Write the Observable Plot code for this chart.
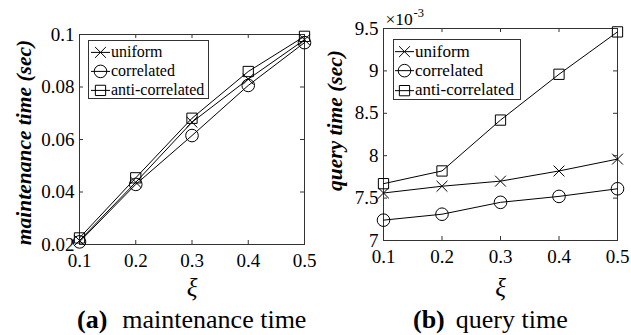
<!DOCTYPE html>
<html><head><meta charset="utf-8">
<script src="https://cdn.jsdelivr.net/npm/d3@7"></script>
<script src="https://cdn.jsdelivr.net/npm/@observablehq/plot@0.6"></script>
<style>
body{margin:0;background:#fff;}
#wrap{position:relative;width:631px;height:335px;font-family:"Liberation Serif",serif;color:#000;overflow:hidden;}
#wrap svg, #wrap svg text, #wrap svg g{font-family:"Liberation Serif",serif !important;}
.panel{position:absolute;top:0;}
.cap{position:absolute;font-size:26px;line-height:26px;white-space:nowrap;}
.cap b{margin-right:var(--gap);}
.legend{position:absolute;border:1px solid #333;background:#fff;box-sizing:border-box;}
.legend .row{display:flex;align-items:center;white-space:nowrap;}
.legend svg{display:block;flex:none;}
</style></head><body><div id="wrap"></div>
<script>
// ---- data ----
const xi = [0.1, 0.2, 0.3, 0.4, 0.5];
const xTickLabels = ["0.1", "0.2", "0.3", "0.4", "0.5"];
const seriesNames = ["uniform", "correlated", "anti-correlated"];
const seriesSymbols = ["times", "circle", "square"];
const maintUniform = [0.0215, 0.0437, 0.0666, 0.0830, 0.0980];
const maintCorrelated = [0.0210, 0.0429, 0.0615, 0.0806, 0.0969];
const maintAnti = [0.0225, 0.0454, 0.0681, 0.0859, 0.0993];
const queryUniform = [7.56, 7.64, 7.70, 7.82, 7.96];
const queryCorrelated = [7.24, 7.31, 7.45, 7.52, 7.61];
const queryAnti = [7.67, 7.82, 8.42, 8.96, 9.46];
const maintTicks = [0.02, 0.04, 0.06, 0.08, 0.1];
const maintTickLabels = ["0.02", "0.04", "0.06", "0.08", "0.1"];
const queryTicks = [7, 7.5, 8, 8.5, 9, 9.5];
const queryTickLabels = ["7", "7.5", "8", "8.5", "9", "9.5"];

const symR = {times: 5, circle: 6.3, square: 5.8};
const FONT = "Liberation Serif";

function panel(o) {
  const fw = o.width - o.ml - o.mr, fh = o.height - o.mt - o.mb;
  const marks = [
    Plot.frame({stroke: "#333"}),
    Plot.tickX(xi, {x: d => d, insetTop: fh - 4, stroke: "#333"}),
    Plot.tickX(xi, {x: d => d, insetBottom: fh - 4, stroke: "#333"}),
    Plot.tickY(o.yTicks, {y: d => d, insetRight: fw - 4, stroke: "#333"}),
    Plot.tickY(o.yTicks, {y: d => d, insetLeft: fw - 4, stroke: "#333"}),
    Plot.axisX({ticks: xi, tickSize: 0, tickPadding: 9, fontSize: 19, fontFamily: FONT, label: null,
      tickFormat: d => xTickLabels[xi.findIndex(v => Math.abs(v - d) < 1e-9)]}),
    Plot.axisY({ticks: o.yTicks, tickSize: 0, tickPadding: 5, fontSize: 19, fontFamily: FONT, label: null,
      tickFormat: d => o.yLabels[o.yTicks.findIndex(v => Math.abs(v - d) < 1e-9)]}),
    Plot.text([o.ylabel], {text: d => d, frameAnchor: "left", rotate: -90, dx: o.ylDx, dy: o.ylDy, fontFamily: FONT,
      fontSize: 21.5, fontWeight: "bold", fontStyle: "italic", textAnchor: "middle", lineAnchor: "middle"}),
    Plot.text(["ξ"], {text: d => d, frameAnchor: "bottom", dy: o.xiDy, fontSize: 25, fontFamily: FONT, fontStyle: "italic", lineAnchor: "middle"})
  ];
  o.series.forEach((vals, k) => {
    const data = xi.map((x, i) => ({x, y: vals[i]}));
    marks.push(Plot.line(data, {x: "x", y: "y", stroke: "#000", strokeWidth: 1}));
    marks.push(Plot.dot(data, {x: "x", y: "y", symbol: seriesSymbols[k], r: symR[seriesSymbols[k]],
      stroke: "#000", fill: "none", strokeWidth: 1}));
  });
  if (o.extra) marks.push(...o.extra);
  return Plot.plot({
    width: o.width, height: o.height,
    marginLeft: o.ml, marginRight: o.mr, marginTop: o.mt, marginBottom: o.mb,
    x: {domain: [0.1, 0.5]},
    y: {domain: o.yDomain},
    style: {fontFamily: "'Liberation Serif', serif", color: "#000", background: "transparent", overflow: "visible"},
    marks
  });
}

const wrap = document.getElementById("wrap");

const left = panel({
  width: 316, height: 300, ml: 79, mr: 12, mt: 34, mb: 56,
  yDomain: [0.02, 0.1], yTicks: maintTicks, yLabels: maintTickLabels,
  series: [maintUniform, maintCorrelated, maintAnti],
  ylabel: "maintenance time (sec)", ylDx: -55, ylDy: 3, xiDy: 43
});
left.classList.add("panel"); left.style.left = "0px";
wrap.appendChild(left);

const right = panel({
  width: 315, height: 300, ml: 67, mr: 14, mt: 28, mb: 60,
  yDomain: [7, 9.5], yTicks: queryTicks, yLabels: queryTickLabels,
  series: [queryUniform, queryCorrelated, queryAnti],
  ylabel: "query time (sec)", ylDx: -48, ylDy: -14, xiDy: 47,
  extra: [
    Plot.text(["×10"], {text: d => d, frameAnchor: "top-left", textAnchor: "start", lineAnchor: "bottom", dx: 2, dy: -4, fontSize: 17.5, fontFamily: FONT}),
    Plot.text(["-3"], {text: d => d, frameAnchor: "top-left", textAnchor: "start", lineAnchor: "bottom", dx: 30, dy: -12, fontSize: 12.5, fontFamily: FONT})
  ]
});
right.classList.add("panel"); right.style.left = "316px";
wrap.appendChild(right);

function legend(x, y, w, h, fs, padL, padT, rowH) {
  const div = document.createElement("div");
  div.className = "legend";
  Object.assign(div.style, {left: x + "px", top: y + "px", width: w + "px", height: h + "px",
    paddingLeft: padL + "px", paddingTop: padT + "px", fontSize: fs + "px"});
  seriesNames.forEach((name, k) => {
    const row = document.createElement("div");
    row.className = "row"; row.style.height = rowH + "px";
    const s = d3.create("svg").attr("width", 19).attr("height", rowH);
    s.append("line").attr("x1", 0).attr("x2", 19).attr("y1", rowH / 2).attr("y2", rowH / 2).attr("stroke", "#000");
    const r = symR[seriesSymbols[k]];
    const sym = {times: d3.symbolTimes, circle: d3.symbolCircle, square: d3.symbolSquare}[seriesSymbols[k]];
    s.append("path").attr("d", d3.symbol(sym, Math.PI * r * r)())
      .attr("transform", `translate(9.5,${rowH / 2})`).attr("fill", "none").attr("stroke", "#000");
    row.appendChild(s.node());
    const t = document.createElement("span"); t.textContent = name; t.style.marginLeft = "1px";
    row.appendChild(t);
    div.appendChild(row);
  });
  wrap.appendChild(div);
}
legend(88, 40, 121, 59, 16, 2, 2, 18.8);
legend(393, 39, 128, 61, 17, 1, 2, 19.3);

function caption(x, label, text, gap) {
  const d = document.createElement("div");
  d.className = "cap";
  d.style.left = x + "px"; d.style.top = "307px";
  d.style.setProperty("--gap", gap + "px");
  d.innerHTML = `<b>${label}</b>${text}`;
  wrap.appendChild(d);
}
caption(77, "(a)", "maintenance time", 15);
caption(413, "(b)", "query time", 11);
</script>
</body></html>
